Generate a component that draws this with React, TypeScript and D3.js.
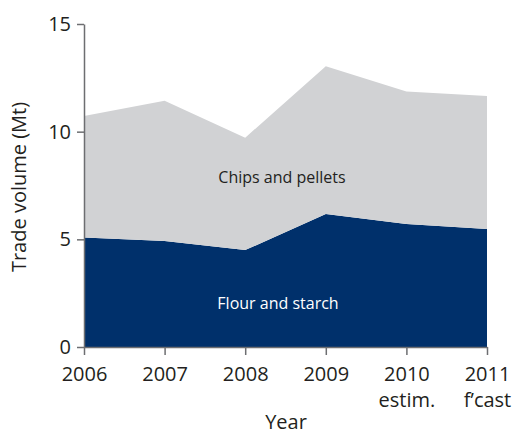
import React, { useRef, useEffect } from 'react';
import * as d3 from 'd3';

const years = ['2006', '2007', '2008', '2009', '2010', '2011'];
const yearSub = ['', '', '', '', 'estim.', 'f\u2019cast'];
const flourStarch = [5.08, 4.92, 4.5, 6.18, 5.71, 5.48];
const chipsPellets = [5.65, 6.52, 5.22, 6.86, 6.15, 6.18];
const yTicks = [0, 5, 10, 15];

const FONT = '"Open Sans", "DejaVu Sans", sans-serif';

const App = () => {
  const svgRef = useRef(null);

  useEffect(() => {
    const svg = d3.select(svgRef.current);
    svg.selectAll('*').remove();

    const x = d3.scalePoint().domain(years).range([84, 487]);
    const y = d3.scaleLinear().domain([0, 15]).range([347, 24]);

    const rows = years.map((yr, i) => ({ year: yr, flour: flourStarch[i], chips: chipsPellets[i] }));
    const stack = d3.stack().keys(['flour', 'chips'])(rows);
    const colors = { flour: '#00306b', chips: '#d1d2d4' };

    const area = d3.area()
      .x((d) => x(d.data.year))
      .y0((d) => y(d[0]))
      .y1((d) => y(d[1]));

    svg.append('g')
      .selectAll('path')
      .data(stack)
      .enter()
      .append('path')
      .attr('d', area)
      .attr('fill', (s) => colors[s.key]);

    // y axis
    const yAxis = svg.append('g')
      .attr('transform', 'translate(84,0)')
      .call(d3.axisLeft(y).tickValues(yTicks).tickSize(7).tickSizeOuter(0).tickPadding(6));
    yAxis.selectAll('text').attr('font-size', 20).attr('font-family', FONT).attr('fill', '#231f20');

    // x axis
    const xAxis = svg.append('g')
      .attr('transform', 'translate(0,347)')
      .call(d3.axisBottom(x).tickSize(8).tickSizeOuter(0).tickPadding(12));
    xAxis.selectAll('text').attr('font-size', 20).attr('font-family', FONT).attr('fill', '#231f20');
    xAxis.selectAll('.tick')
      .append('text')
      .attr('y', 60)
      .attr('fill', '#231f20')
      .attr('font-size', 20)
      .attr('font-family', FONT)
      .attr('text-anchor', 'middle')
      .text((d, i) => yearSub[i]);

    [yAxis, xAxis].forEach((g) => {
      g.selectAll('path, line').attr('stroke', '#6d6e71').attr('stroke-width', 1.5);
    });

    svg.append('text')
      .attr('x', 286).attr('y', 429)
      .attr('text-anchor', 'middle')
      .attr('font-size', 20).attr('font-family', FONT).attr('fill', '#231f20')
      .text('Year');

    svg.append('text')
      .attr('transform', 'translate(26,187) rotate(-90)')
      .attr('text-anchor', 'middle')
      .attr('font-size', 20).attr('font-family', FONT).attr('fill', '#231f20')
      .text('Trade volume (Mt)');

    svg.append('text')
      .attr('x', 282).attr('y', 183)
      .attr('text-anchor', 'middle')
      .attr('font-size', 16).attr('font-family', FONT).attr('fill', '#231f20')
      .text('Chips and pellets');

    svg.append('text')
      .attr('x', 278).attr('y', 309)
      .attr('text-anchor', 'middle')
      .attr('font-size', 16).attr('font-family', FONT).attr('fill', '#ffffff')
      .text('Flour and starch');
  }, []);

  return (
    <svg ref={svgRef} width="513" height="431" style={{ position: 'absolute', left: 0, top: 0, background: '#fff' }}></svg>
  );
};

export default App;
